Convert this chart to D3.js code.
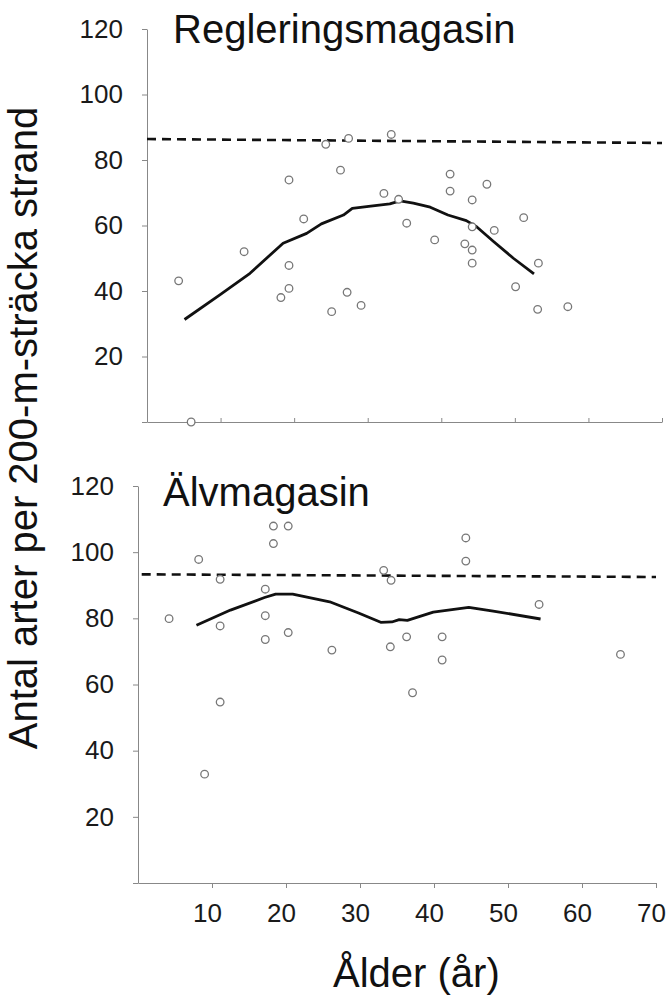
<!DOCTYPE html>
<html>
<head>
<meta charset="utf-8">
<script src="https://cdn.jsdelivr.net/npm/d3@7"></script>
<style>
	body { margin: 0; background: #fff; }
	svg text { font-family: 'Liberation Sans', Arial, sans-serif; fill: #111; }
	.axis path, .axis line { stroke: #888; stroke-width: 1; }
	.axis text { font-size: 26px; fill: #1a1a1a; }
</style>
</head>
<body>
<svg width="668" height="996"></svg>
<script>
// Regleringsmagasin: observerade stränder (ålder, antal arter)
var regAge = [4.3, 6.0, 13.2, 19.3, 19.3, 19.3, 18.2, 21.3, 24.3, 27.4, 26.3, 25.1, 27.2, 29.1, 33.2, 32.2,
	34.2, 35.3, 41.2, 41.2, 39.1, 44.2, 43.2, 44.2, 44.2, 44.2, 46.2, 47.2, 51.2, 50.1, 53.2, 53.1, 57.2];
var regArter = [43.1, 0, 52.0, 73.9, 47.8, 40.8, 38.0, 62.0, 84.8, 86.6, 76.9, 33.7, 39.6, 35.6, 87.8, 69.8,
	68.0, 60.7, 75.7, 70.5, 55.6, 67.8, 54.4, 59.6, 52.5, 48.5, 72.6, 58.5, 62.4, 41.3, 48.5, 34.4, 35.2];
// utjämnad kurva
var regLineAge = [5.1, 9.9, 14.0, 18.5, 21.7, 23.7, 26.7, 27.9, 30.7, 33.0, 34.4, 36.2, 38.5, 40.9, 43.4, 44.8, 47.1, 49.8, 52.6];
var regLineArter = [31.3, 38.8, 45.4, 54.6, 57.6, 60.5, 63.2, 65.2, 66.0, 66.6, 67.5, 66.8, 65.6, 63.2, 61.5, 59.6, 55.1, 50.0, 45.2];
// referensnivå (streckad)
var regRefAge = [0, 70];
var regRef = [86.4, 85.2];

// Älvmagasin
var alvAge = [4.2, 8.2, 9.0, 11.1, 11.1, 11.1, 17.2, 17.2, 17.2, 18.3, 18.3, 20.3, 20.3, 26.2, 33.2, 34.2,
	34.1, 36.3, 37.1, 41.1, 41.1, 44.3, 44.3, 54.2, 65.2];
var alvArter = [79.9, 97.8, 32.9, 91.8, 77.7, 54.7, 88.8, 80.8, 73.6, 107.9, 102.6, 107.9, 75.7, 70.4, 94.5, 91.5,
	71.4, 74.4, 57.5, 74.4, 67.4, 104.3, 97.3, 84.2, 69.1];
var alvLineAge = [7.9, 12.5, 17.1, 18.6, 20.9, 25.9, 29.8, 32.8, 34.3, 35.3, 36.4, 39.9, 44.7, 48.0, 54.4];
var alvLineArter = [77.9, 82.5, 86.3, 87.3, 87.3, 85.0, 81.6, 78.8, 78.9, 79.6, 79.4, 81.9, 83.3, 82.2, 79.8];
var alvRefAge = [0.5, 70];
var alvRef = [93.3, 92.5];

var yTicks = [0, 20, 40, 60, 80, 100, 120];
var xTicks = [10, 20, 30, 40, 50, 60, 70];

var svg = d3.select('svg');
svg.append('rect').attr('width', 668).attr('height', 996).attr('fill', '#fff');

function zip(a, b) {
	return a.map(function(d, i) { return [d, b[i]]; });
}

function panel(opt) {
	var x = d3.scaleLinear().domain([0, 70]).range([opt.L, opt.R]);
	var y = d3.scaleLinear().domain([0, 120]).range([opt.B, opt.T]);

	var yAxis = d3.axisLeft(y)
		.tickValues(yTicks)
		.tickSize(5)
		.tickSizeOuter(0)
		.tickPadding(19)
		.tickFormat(function(d) { return d === 0 ? '' : d; });
	svg.append('g')
		.attr('class', 'axis')
		.attr('transform', 'translate(' + opt.L + ',0)')
		.call(yAxis);

	var xAxis = d3.axisBottom(x)
		.tickValues(xTicks)
		.tickSize(opt.labels ? 5 : -4)
		.tickSizeOuter(0)
		.tickPadding(16)
		.tickFormat(function(d) { return opt.labels ? d : ''; });
	var gx = svg.append('g')
		.attr('class', 'axis')
		.attr('transform', 'translate(0,' + opt.B + ')')
		.call(xAxis);
	gx.selectAll('text').attr('dx', -5);

	svg.selectAll('.axis .domain').attr('stroke', '#888');

	var line = d3.line()
		.x(function(d) { return x(d[0]); })
		.y(function(d) { return y(d[1]); });

	svg.append('path')
		.attr('d', line(zip(opt.refAge, opt.ref)))
		.attr('fill', 'none')
		.attr('stroke', '#111')
		.attr('stroke-width', 2.6)
		.attr('stroke-dasharray', '9,6');

	svg.append('path')
		.attr('d', line(zip(opt.lineAge, opt.lineVal)))
		.attr('fill', 'none')
		.attr('stroke', '#111')
		.attr('stroke-width', 2.8)
		.attr('stroke-linejoin', 'round');

	svg.append('g').selectAll('circle')
		.data(zip(opt.age, opt.val))
		.enter().append('circle')
		.attr('cx', function(d) { return x(d[0]); })
		.attr('cy', function(d) { return y(d[1]); })
		.attr('r', 3.8)
		.attr('fill', '#fff')
		.attr('stroke', '#777')
		.attr('stroke-width', 1.3);

	svg.append('text')
		.attr('x', opt.titleX)
		.attr('y', opt.titleY)
		.style('font-size', '40px')
		.text(opt.title);
}

panel({
	L: 147, R: 662, T: 29, B: 422, labels: false,
	age: regAge, val: regArter, lineAge: regLineAge, lineVal: regLineArter,
	refAge: regRefAge, ref: regRef,
	title: 'Regleringsmagasin', titleX: 173, titleY: 43
});

panel({
	L: 138, R: 656, T: 486, B: 883, labels: true,
	age: alvAge, val: alvArter, lineAge: alvLineAge, lineVal: alvLineArter,
	refAge: alvRefAge, ref: alvRef,
	title: 'Älvmagasin', titleX: 163, titleY: 506
});

svg.append('text')
	.attr('transform', 'translate(37,428) rotate(-90)')
	.attr('text-anchor', 'middle')
	.style('font-size', '40px')
	.text('Antal arter per 200-m-sträcka strand');

svg.append('text')
	.attr('x', 333)
	.attr('y', 987)
	.style('font-size', '40px')
	.text('Ålder (år)');
</script>
</body>
</html>
